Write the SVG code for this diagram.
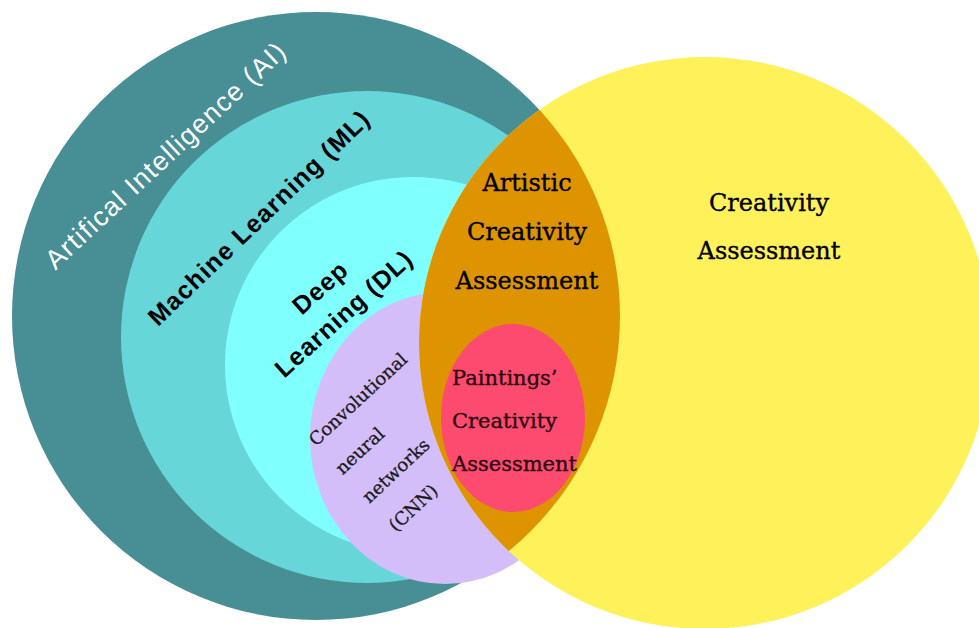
<svg xmlns="http://www.w3.org/2000/svg" width="979" height="628" viewBox="0 0 979 628">
<style>
.sans{font-family:"Liberation Sans",Arial,Helvetica,sans-serif;}
.serif{font-family:"DejaVu Serif","Liberation Serif",serif;}
.ai{fill:#ffffff;font-size:27px;letter-spacing:1.3px;}
.ml{fill:#000000;font-size:25px;font-weight:bold;letter-spacing:1.2px;}
.dl{fill:#000000;font-size:25px;font-weight:bold;letter-spacing:1px;}
.cnn{fill:#1a1a1a;font-size:18px;stroke:#1a1a1a;stroke-width:0.3px;}
.big{fill:#000000;font-size:24px;stroke:#000000;stroke-width:0.35px;}
.pt{fill:#2a0610;font-size:21px;stroke:#2a0610;stroke-width:0.35px;}
</style>
<defs>
<clipPath id="aiClip"><circle cx="316" cy="316" r="304"/></clipPath>
</defs>
<rect width="979" height="628" fill="#ffffff"/>
<g id="ai">
<circle cx="316" cy="316" r="304" fill="#478f95"/>
</g>
<g id="ml">
<circle cx="367" cy="337" r="246" fill="#66d6d9"/>
</g>
<g id="dl">
<circle cx="413" cy="365" r="188" fill="#80ffff"/>
</g>
<g id="cnn">
<ellipse cx="445" cy="438" rx="135" ry="146" fill="#d3befa"/>
</g>
<g id="creativity">
<circle cx="705" cy="343" r="286" fill="#fef15a"/>
</g>
<g id="artistic">
<circle cx="705" cy="343" r="286" fill="#de9400" clip-path="url(#aiClip)"/>
</g>
<g id="paintings">
<ellipse cx="513" cy="418" rx="72" ry="94" fill="#fd4b6f"/>
</g>
<g id="connectors"/>
<g id="labels">
<text class="sans ai" text-anchor="middle" transform="translate(172,162) rotate(-43)">Artifical Intelligence (AI)</text>
<text class="sans ml" text-anchor="middle" transform="translate(265,224) rotate(-44)">Machine Learning (ML)</text>
<g transform="translate(326,294) rotate(-42)">
<text class="sans dl" text-anchor="middle" x="0" y="0">Deep</text>
<text class="sans dl" text-anchor="middle" x="0" y="35">Learning (DL)</text>
</g>
<g transform="translate(316,447) rotate(-43)">
<text class="serif cnn" x="0" y="0">Convolutional</text>
<text class="serif cnn" x="0" y="39">neural</text>
<text class="serif cnn" x="0" y="78">networks</text>
<text class="serif cnn" x="0" y="117">(CNN)</text>
</g>
<text class="serif big" text-anchor="middle" x="527" y="191">Artistic</text>
<text class="serif big" text-anchor="middle" x="527" y="240">Creativity</text>
<text class="serif big" text-anchor="middle" x="527" y="289">Assessment</text>
<text class="serif big" text-anchor="middle" x="769" y="211">Creativity</text>
<text class="serif big" text-anchor="middle" x="769" y="259">Assessment</text>
<text class="serif pt" x="452" y="385">Paintings’</text>
<text class="serif pt" x="452" y="428">Creativity</text>
<text class="serif pt" x="452" y="471">Assessment</text>
</g>
</svg>
